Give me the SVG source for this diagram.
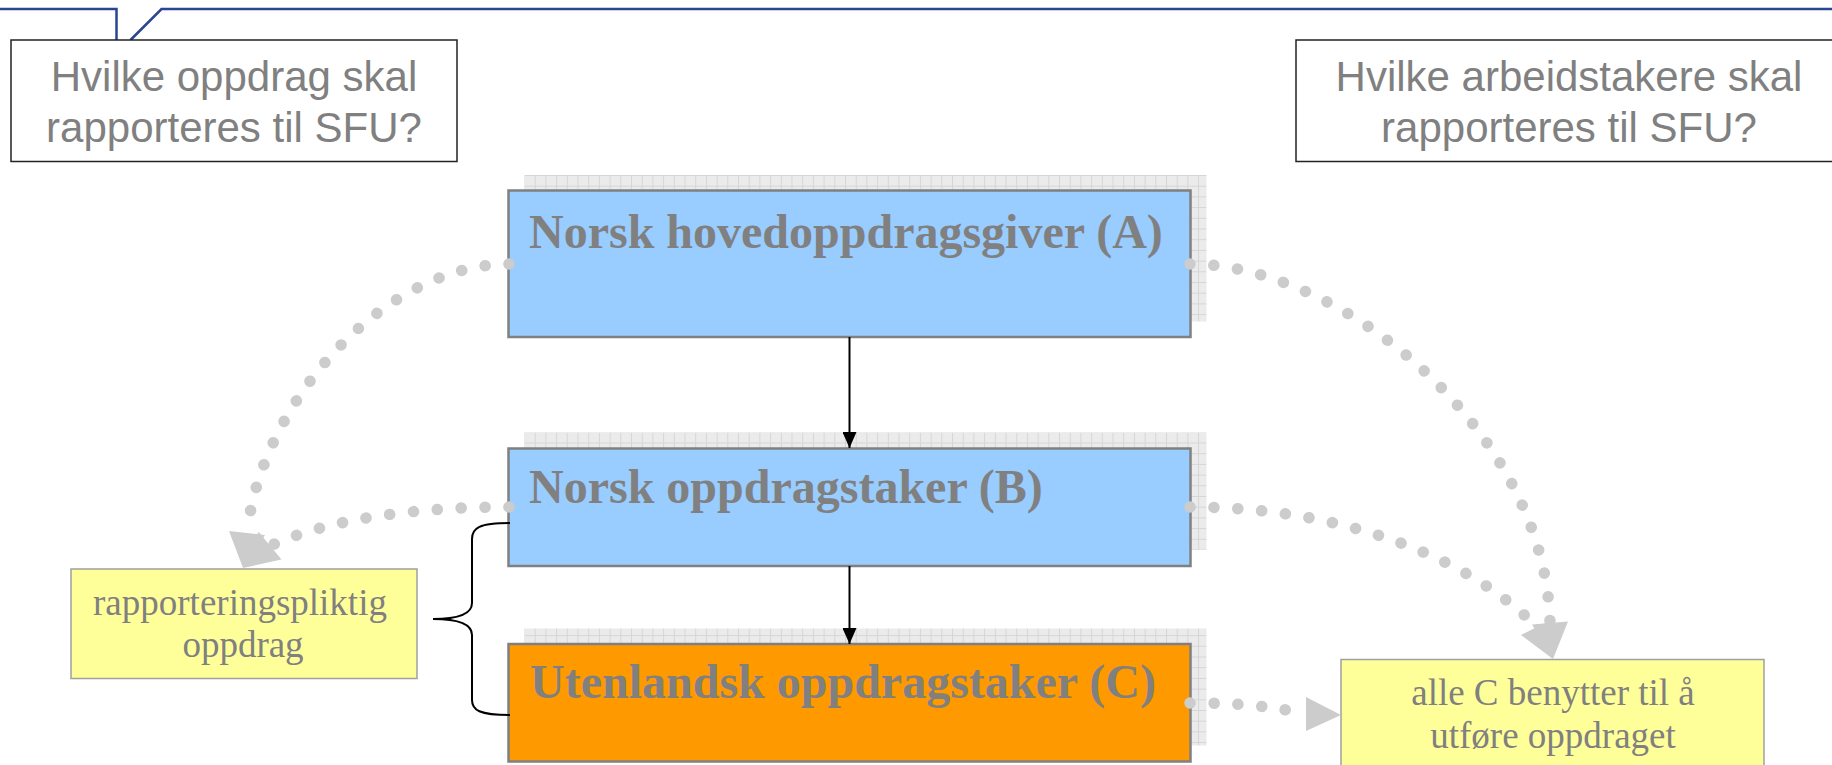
<svg xmlns="http://www.w3.org/2000/svg" width="1832" height="765" viewBox="0 0 1832 765">
<style>
.q{fill:#fff;stroke:#222;stroke-width:1.5}
.qt{font-family:"Liberation Sans",Arial,sans-serif;font-size:42px;fill:#808080;text-anchor:middle}
.bx{stroke:#808080;stroke-width:2.5}
.bt{font-family:"Liberation Serif","Times New Roman",serif;font-size:48px;font-weight:bold;fill:#808080}
.note{fill:#ffff99;stroke:#a0a0a0;stroke-width:1.5}
.nt{font-family:"Liberation Serif","Times New Roman",serif;font-size:37px;fill:#808080;text-anchor:middle}
.dot{fill:none;stroke:#cccccc;stroke-width:11.5;stroke-linecap:round;stroke-dasharray:0.1 23.8}
.ah{fill:#cccccc}
.sh{fill:url(#grid)}
</style>
<defs>
<pattern id="grid" width="10.7" height="10.7" patternUnits="userSpaceOnUse" x="524" y="175">
<rect width="10.7" height="10.7" fill="#ebebeb"/>
<path d="M0,0.5H10.7M0.5,0V10.7" stroke="#d6d6d6" stroke-width="1"/>
</pattern>
<marker id="blk" markerWidth="16" markerHeight="14" refX="16" refY="7" orient="auto" markerUnits="userSpaceOnUse" viewBox="0 0 16 14">
<path d="M0,0L16,7L0,14Z" fill="#000"/>
</marker>
</defs>
<rect width="1832" height="765" fill="#fff"/>
<g id="header">
<path d="M0,9H116.5V40M130.5,40L161.5,9H1832" fill="none" stroke="#2a4593" stroke-width="2.5"/>
</g>
<g id="q-left">
<rect class="q" x="11" y="40" width="446" height="121.5"/>
<text class="qt" x="234" y="91">Hvilke oppdrag skal</text>
<text class="qt" x="234" y="142">rapporteres til SFU?</text>
</g>
<g id="q-right">
<rect class="q" x="1296" y="40" width="546" height="121.5"/>
<text class="qt" x="1569" y="91">Hvilke arbeidstakere skal</text>
<text class="qt" x="1569" y="142">rapporteres til SFU?</text>
</g>
<g id="node-A">
<rect class="sh" x="524.5" y="175" width="682" height="146.5"/>
<rect class="bx" x="508.5" y="190.5" width="682" height="146.5" fill="#99ccff"/>
<text class="bt" x="529" y="248">Norsk hovedoppdragsgiver (A)</text>
</g>
<g id="node-B">
<rect class="sh" x="524.5" y="432.5" width="682" height="117.5"/>
<rect class="bx" x="508.5" y="448.5" width="682" height="117.5" fill="#99ccff"/>
<text class="bt" x="529" y="503">Norsk oppdragstaker (B)</text>
</g>
<g id="node-C">
<rect class="sh" x="524.5" y="628.5" width="682" height="117"/>
<rect class="bx" x="508.5" y="644" width="682" height="117.5" fill="#ff9900"/>
<text class="bt" x="530" y="698">Utenlandsk oppdragstaker (C)</text>
</g>
<g id="note-left">
<rect class="note" x="71" y="569" width="346" height="109.5"/>
<text class="nt" x="240" y="615">rapporteringspliktig</text>
<text class="nt" x="243" y="657">oppdrag</text>
</g>
<g id="note-right">
<rect class="note" x="1341" y="659.5" width="423" height="130"/>
<text class="nt" x="1553" y="705">alle C benytter til å</text>
<text class="nt" x="1553" y="748">utføre oppdraget</text>
</g>
<g id="brace">
<path d="M510,523C479,523 472,528 472,539V603C472,614 458,619 433,619C458,619 472,624 472,635V700C472,710 479,715 510,715" fill="none" stroke="#000" stroke-width="2"/>
</g>
<g id="connectors">
<line x1="849.5" y1="337" x2="849.5" y2="448" stroke="#000" stroke-width="2" marker-end="url(#blk)"/>
<line x1="849.5" y1="566" x2="849.5" y2="644" stroke="#000" stroke-width="2" marker-end="url(#blk)"/>
<path class="dot" d="M509,264C386,264 262,400 247,533"/>
<path class="dot" d="M509,507C420,507 330,518 270,546"/>
<path class="dot" d="M1190,264C1340,264 1545,430 1550,623"/>
<path class="dot" d="M1190,507C1330,507 1460,550 1537,627"/>
<path class="dot" d="M1190,703C1240,703 1270,706 1306,714"/>
<polygon class="ah" points="243,568 265,535 229,531"/>
<polygon class="ah" points="243,568 281.5,559.5 258.5,531.7"/>
<polygon class="ah" points="1553,659 1568,621.5 1532,624.5"/>
<polygon class="ah" points="1553,659 1553,619 1521,635"/>
<polygon class="ah" points="1341,715 1306,697 1306,731"/>
</g>
</svg>
